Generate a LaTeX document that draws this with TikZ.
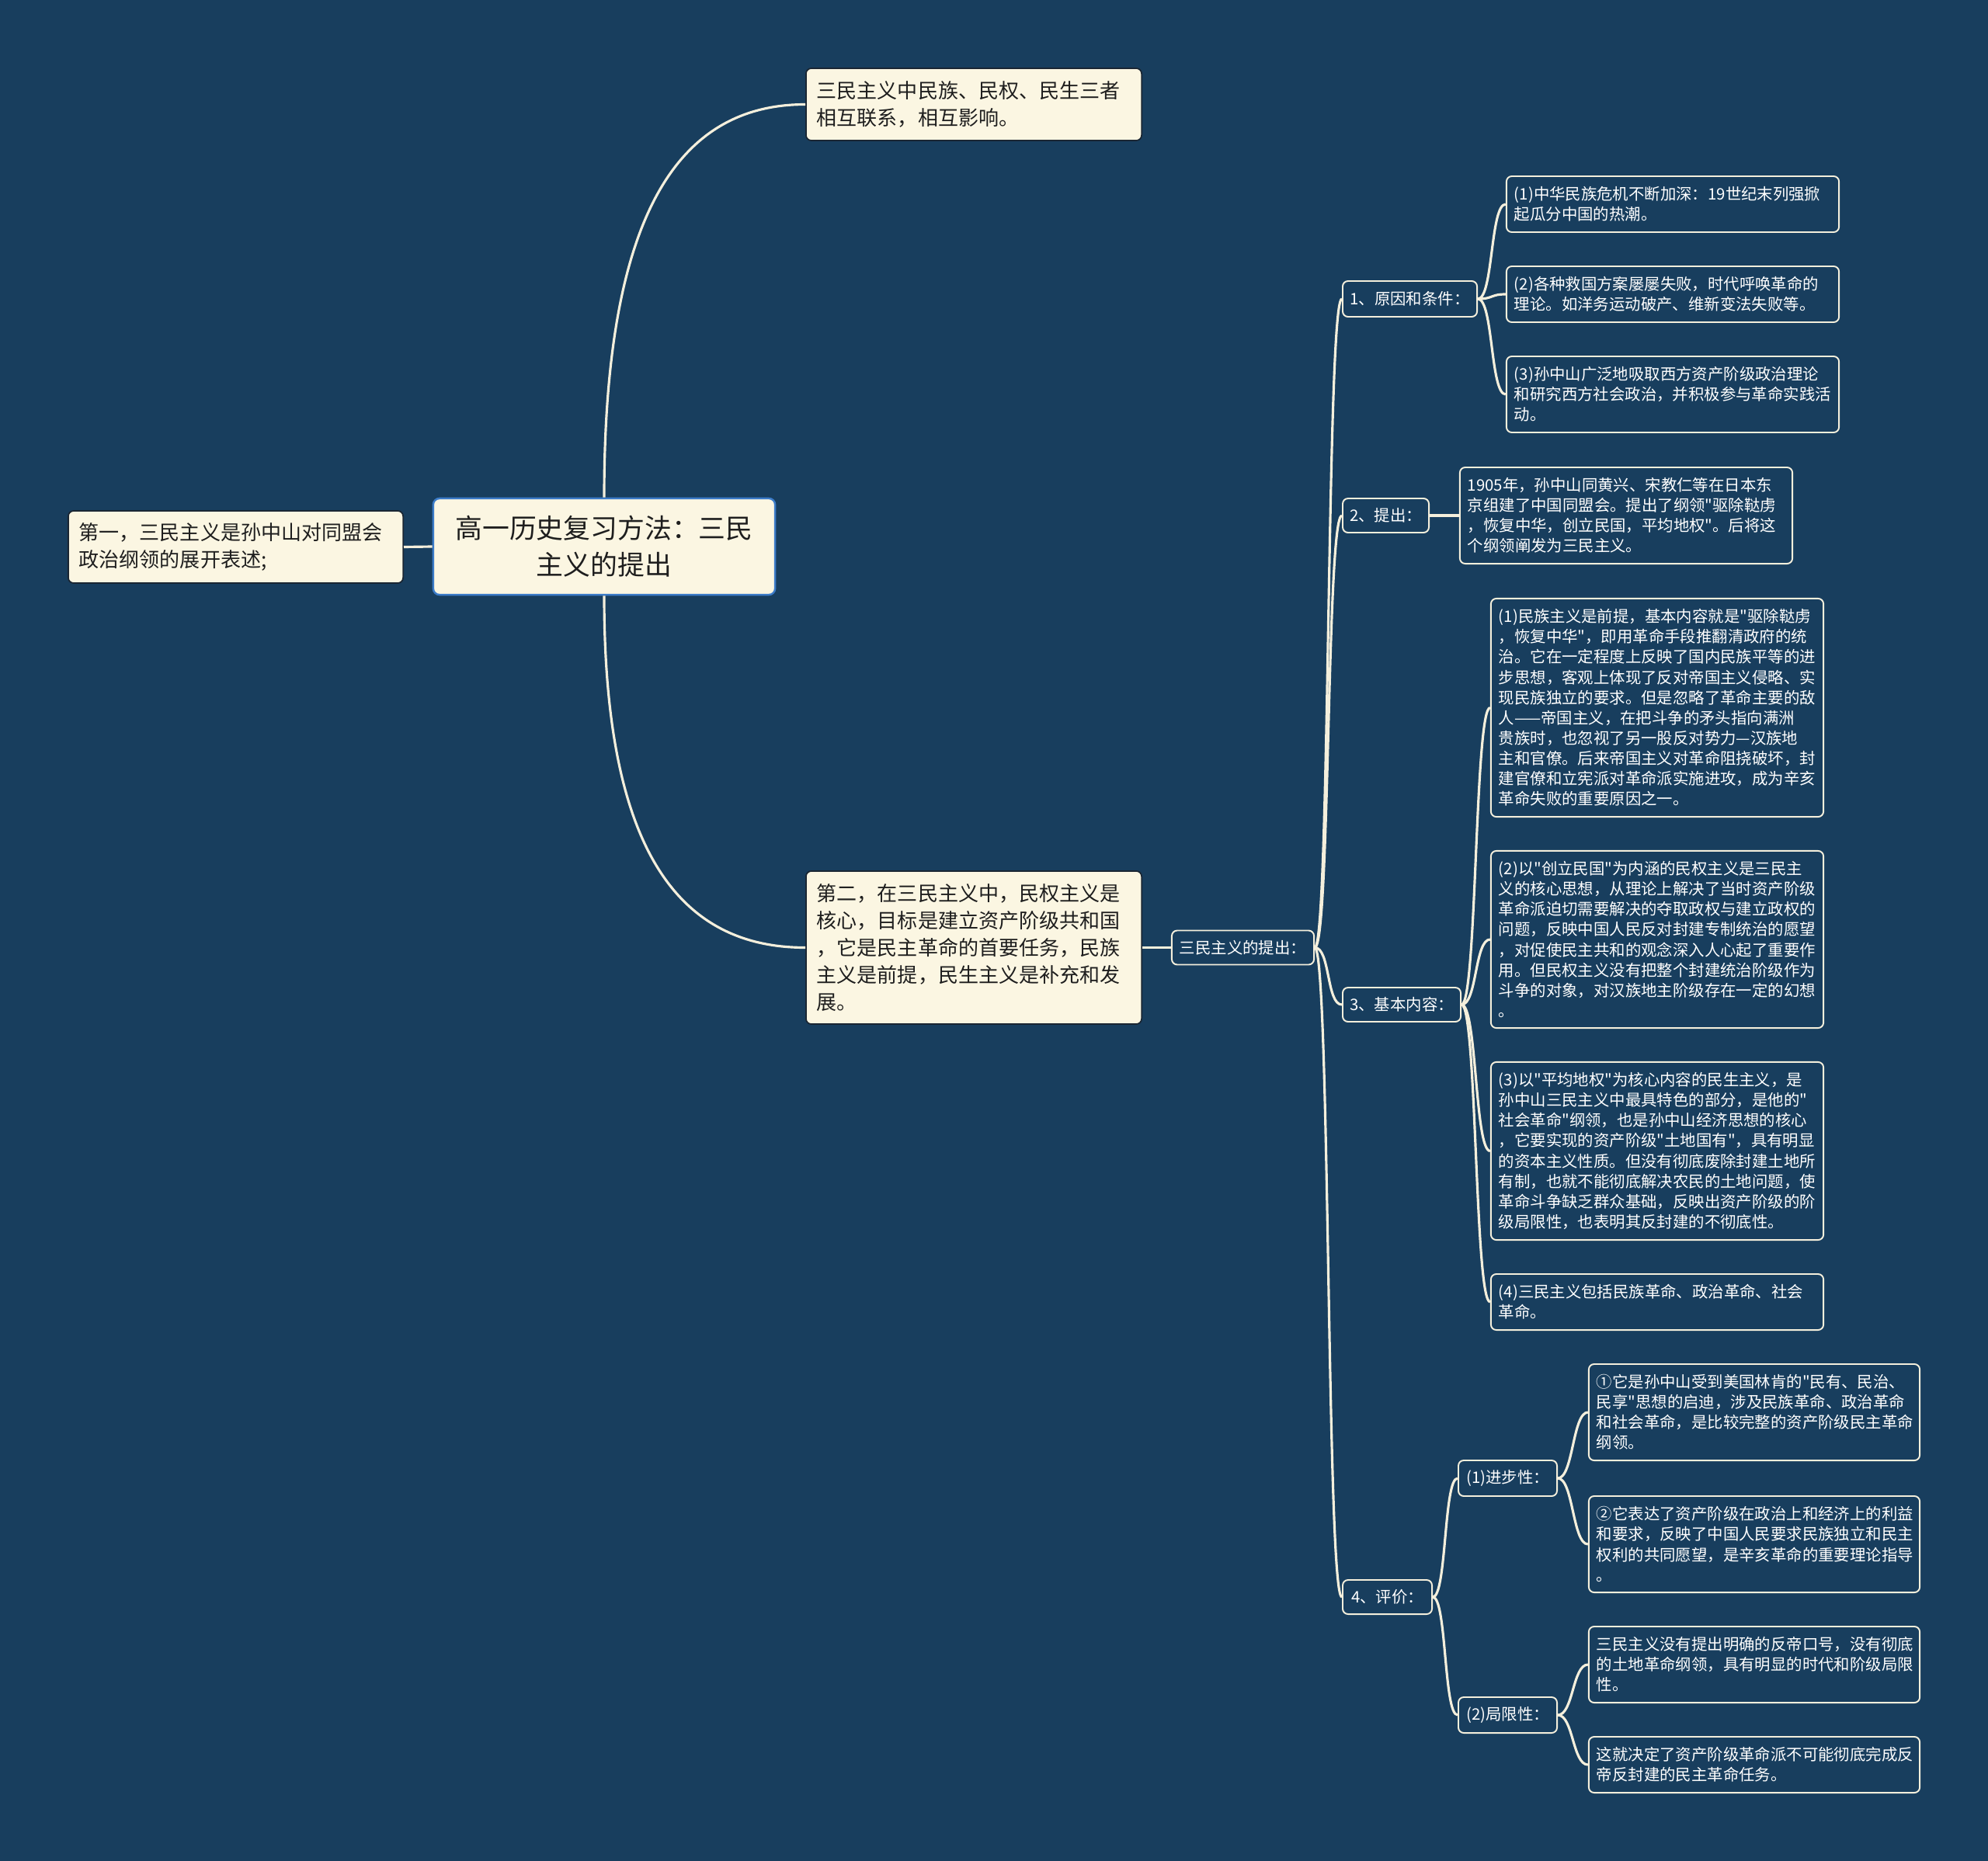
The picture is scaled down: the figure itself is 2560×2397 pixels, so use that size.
\documentclass[tikz,border=0pt]{standalone}
\usepackage{fontspec}
\setmainfont{Noto Sans CJK SC}[Ligatures=TeXOff]
\definecolor{mmBg}{HTML}{183E5E}
\definecolor{mmCream}{HTML}{FBF6E2}
\definecolor{mmLine}{HTML}{F4EFDC}
\definecolor{mmRootEdge}{HTML}{3B7BC8}
\definecolor{mmInk}{HTML}{1E1E1E}
\definecolor{mmFrame}{HTML}{1A2633}

\begin{document}
\begin{tikzpicture}[
  x=0.01cm,y=-0.01cm,
  root/.style={draw=mmRootEdge,line width=0.7pt,fill=mmCream,rounded corners=0.08cm,text=mmInk,
               font=\fontsize{9.9}{13.4}\selectfont,align=center,minimum width=4.4cm,
               minimum height=1.24cm,inner sep=0pt},
  topic/.style={draw=mmFrame,line width=0.5pt,fill=mmCream,rounded corners=0.07cm,text=mmInk,
                font=\fontsize{7.4}{9.96}\selectfont,align=left,text width=4.04cm,
                inner xsep=0.14cm,inner ysep=0pt},
  subtopic/.style={draw=mmLine,line width=0.55pt,rounded corners=0.07cm,text=white,
                   font=\fontsize{5.8}{7.43}\selectfont,align=center,inner sep=0pt},
  leaf/.style={subtopic,align=left,text width=4.08cm,inner xsep=0.1cm},
  branch/.style={draw=mmLine,line width=0.9pt}
]
\fill[mmBg] (0,0) rectangle (2560,2397);

\node[root] (root) at (778,704) {高一历史复习方法：三民\\主义的提出};
\node[topic,minimum height=0.93cm,text width=4.03cm,inner xsep=0.14cm] (intro) at (303.5,704.5)
  {第一，三民主义是孙中山对同盟会\\政治纲领的展开表述;};
\node[topic,minimum height=0.93cm] (linkage) at (1254,134.5)
  {三民主义中民族、民权、民生三者\\相互联系，相互影响。};
\node[topic,minimum height=1.97cm] (core) at (1254,1220.5)
  {第二，在三民主义中，民权主义是\\核心，目标是建立资产阶级共和国\\，它是民主革命的首要任务，民族\\主义是前提，民生主义是补充和发\\展。};
\node[subtopic,minimum width=1.83cm,minimum height=0.44cm] (proposal) at (1600.5,1220.5) {三民主义的提出：};

\node[subtopic,minimum width=1.73cm,minimum height=0.46cm] (cause) at (1815.5,385) {1、原因和条件：};
\node[leaf,minimum height=0.72cm] (causeA) at (2154,263)
  {(1)中华民族危机不断加深：19世纪末列强掀\\起瓜分中国的热潮。};
\node[leaf,minimum height=0.72cm] (causeB) at (2154,379)
  {(2)各种救国方案屡屡失败，时代呼唤革命的\\理论。如洋务运动破产、维新变法失败等。};
\node[leaf,minimum height=0.98cm] (causeC) at (2154,508)
  {(3)孙中山广泛地吸取西方资产阶级政治理论\\和研究西方社会政治，并积极参与革命实践活\\动。};

\node[subtopic,minimum width=1.11cm,minimum height=0.44cm] (raise) at (1784.5,664) {2、提出：};
\node[leaf,minimum height=1.24cm] (raiseA) at (2094,664)
  {1905年，孙中山同黄兴、宋教仁等在日本东\\京组建了中国同盟会。提出了纲领"驱除鞑虏\\，恢复中华，创立民国，平均地权"。后将这\\个纲领阐发为三民主义。};

\node[subtopic,minimum width=1.52cm,minimum height=0.44cm] (content) at (1805,1294) {3、基本内容：};
\node[leaf,minimum height=2.81cm] (contentA) at (2134,911.5)
  {(1)民族主义是前提，基本内容就是"驱除鞑虏\\，恢复中华"，即用革命手段推翻清政府的统\\治。它在一定程度上反映了国内民族平等的进\\步思想，客观上体现了反对帝国主义侵略、实\\现民族独立的要求。但是忽略了革命主要的敌\\人——帝国主义，在把斗争的矛头指向满洲\\贵族时，也忽视了另一股反对势力—汉族地\\主和官僚。后来帝国主义对革命阻挠破坏，封\\建官僚和立宪派对革命派实施进攻，成为辛亥\\革命失败的重要原因之一。};
\node[leaf,minimum height=2.28cm] (contentB) at (2134,1210)
  {(2)以"创立民国"为内涵的民权主义是三民主\\义的核心思想，从理论上解决了当时资产阶级\\革命派迫切需要解决的夺取政权与建立政权的\\问题，反映中国人民反对封建专制统治的愿望\\，对促使民主共和的观念深入人心起了重要作\\用。但民权主义没有把整个封建统治阶级作为\\斗争的对象，对汉族地主阶级存在一定的幻想\\。};
\node[leaf,minimum height=2.29cm] (contentC) at (2134,1482.5)
  {(3)以"平均地权"为核心内容的民生主义，是\\孙中山三民主义中最具特色的部分，是他的"\\社会革命"纲领，也是孙中山经济思想的核心\\，它要实现的资产阶级"土地国有"，具有明显\\的资本主义性质。但没有彻底废除封建土地所\\有制，也就不能彻底解决农民的土地问题，使\\革命斗争缺乏群众基础，反映出资产阶级的阶\\级局限性，也表明其反封建的不彻底性。};
\node[leaf,minimum height=0.72cm] (contentD) at (2134,1677)
  {(4)三民主义包括民族革命、政治革命、社会\\革命。};

\node[subtopic,minimum width=1.15cm,minimum height=0.44cm] (assess) at (1786.5,2057) {4、评价：};
\node[subtopic,minimum width=1.27cm,minimum height=0.46cm] (progress) at (1941.5,1904) {(1)进步性：};
\node[leaf,minimum height=1.24cm,text width=4.06cm] (progressA) at (2259,1819)
  {①它是孙中山受到美国林肯的"民有、民治、\\民享"思想的启迪，涉及民族革命、政治革命\\和社会革命，是比较完整的资产阶级民主革命\\纲领。};
\node[leaf,minimum height=1.24cm,text width=4.06cm] (progressB) at (2259,1989)
  {②它表达了资产阶级在政治上和经济上的利益\\和要求，反映了中国人民要求民族独立和民主\\权利的共同愿望，是辛亥革命的重要理论指导\\。};
\node[subtopic,minimum width=1.27cm,minimum height=0.46cm] (limit) at (1941.5,2209) {(2)局限性：};
\node[leaf,minimum height=0.98cm,text width=4.06cm] (limitA) at (2259,2144)
  {三民主义没有提出明确的反帝口号，没有彻底\\的土地革命纲领，具有明显的时代和阶级局限\\性。};
\node[leaf,minimum height=0.72cm,text width=4.06cm] (limitB) at (2259,2273)
  {这就决定了资产阶级革命派不可能彻底完成反\\帝反封建的民主革命任务。};

\draw[branch] (root.west) -- (intro.east);
\draw[branch] (root.north) .. controls +(0,-355) and +(-169,0) .. (linkage.west);
\draw[branch] (root.south) .. controls +(0,318) and +(-169,0) .. (core.west);
\draw[branch] (core.east) -- (proposal.west);
\draw[branch] (proposal.east) .. controls +(20,0) and +(-20,0) .. (cause.west);
\draw[branch] (proposal.east) .. controls +(20,0) and +(-20,0) .. (raise.west);
\draw[branch] (proposal.east) .. controls +(20,0) and +(-20,0) .. (content.west);
\draw[branch] (proposal.east) .. controls +(20,0) and +(-20,0) .. (assess.west);
\draw[branch] (cause.east) .. controls +(20,0) and +(-20,0) .. (causeA.west);
\draw[branch] (cause.east) .. controls +(20,0) and +(-20,0) .. (causeB.west);
\draw[branch] (cause.east) .. controls +(20,0) and +(-20,0) .. (causeC.west);
\draw[branch] (raise.east) -- (raiseA.west);
\draw[branch] (content.east) .. controls +(20,0) and +(-20,0) .. (contentA.west);
\draw[branch] (content.east) .. controls +(20,0) and +(-20,0) .. (contentB.west);
\draw[branch] (content.east) .. controls +(20,0) and +(-20,0) .. (contentC.west);
\draw[branch] (content.east) .. controls +(20,0) and +(-20,0) .. (contentD.west);
\draw[branch] (assess.east) .. controls +(18,0) and +(-18,0) .. (progress.west);
\draw[branch] (assess.east) .. controls +(18,0) and +(-18,0) .. (limit.west);
\draw[branch] (progress.east) .. controls +(20,0) and +(-20,0) .. (progressA.west);
\draw[branch] (progress.east) .. controls +(20,0) and +(-20,0) .. (progressB.west);
\draw[branch] (limit.east) .. controls +(20,0) and +(-20,0) .. (limitA.west);
\draw[branch] (limit.east) .. controls +(20,0) and +(-20,0) .. (limitB.west);
\end{tikzpicture}
\end{document}
